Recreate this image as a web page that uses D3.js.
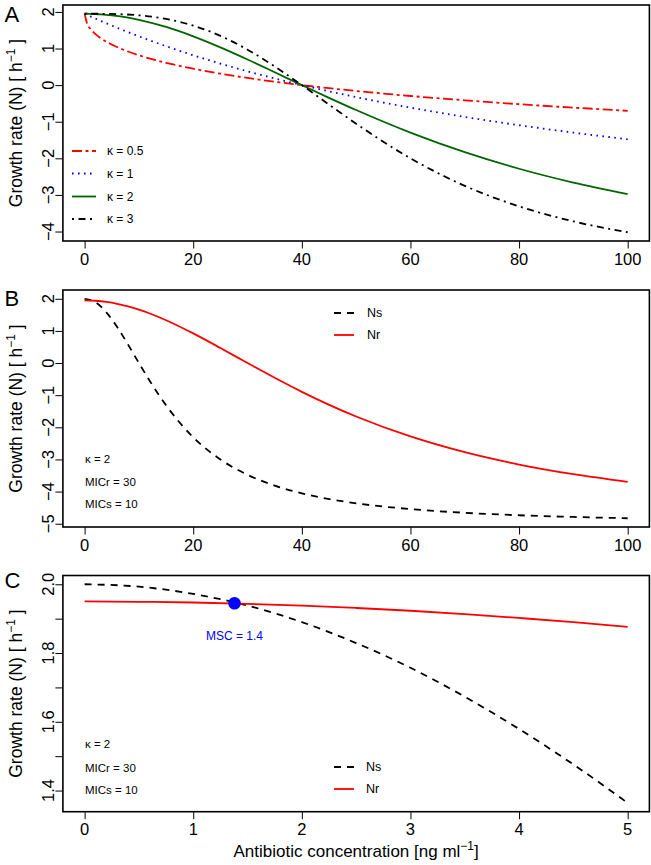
<!DOCTYPE html>
<html>
<head>
<meta charset="utf-8">
<script src="https://cdn.jsdelivr.net/npm/d3@7"></script>
<style>
  html, body { margin: 0; padding: 0; background: #fff; }
  svg { display: block; font-family: "Liberation Sans", Arial, sans-serif; }
</style>
</head>
<body>
<svg id="chart" width="651" height="865"></svg>
<script>
// ---------------- DATA ----------------
// Panel A: growth rate vs antibiotic concentration for several kappa values
const concA = [0, 0.5, 1, 2, 3, 5, 7.5, 10, 15, 20, 25, 30, 35, 40, 45, 50, 60, 70, 80, 90, 100];
const kappa05 = [1.95, 1.660, 1.546, 1.393, 1.279, 1.108, 0.946, 0.816, 0.610, 0.448, 0.312, 0.195, 0.092, 0.000, -0.084, -0.160, -0.297, -0.415, -0.521, -0.615, -0.701];
const kappa1  = [1.95, 1.916, 1.883, 1.817, 1.752, 1.627, 1.476, 1.333, 1.063, 0.816, 0.588, 0.377, 0.182, 0.000, -0.169, -0.328, -0.615, -0.869, -1.096, -1.298, -1.481];
const kappa2  = [1.95, 1.950, 1.948, 1.943, 1.935, 1.908, 1.856, 1.785, 1.589, 1.333, 1.031, 0.700, 0.352, 0.000, -0.347, -0.681, -1.298, -1.833, -2.285, -2.663, -2.978];
const kappa3  = [1.95, 1.950, 1.950, 1.950, 1.949, 1.945, 1.932, 1.908, 1.810, 1.627, 1.346, 0.968, 0.510, 0.000, -0.531, -1.055, -1.999, -2.751, -3.313, -3.723, -4.020];
const kappaLabels = ["κ = 0.5", "κ = 1", "κ = 2", "κ = 3"];

// Panel B: susceptible (Ns) vs resistant (Nr), wide range
const concB = [0, 2, 4, 6, 8, 10, 12, 15, 20, 25, 30, 35, 40, 50, 60, 70, 80, 90, 100];
const nsB = [2.000, 1.890, 1.579, 1.119, 0.573, 0.000, -0.558, -1.316, -2.308, -3.000, -3.478, -3.814, -4.054, -4.364, -4.545, -4.660, -4.737, -4.790, -4.829];
const nrB = [1.950, 1.938, 1.902, 1.843, 1.762, 1.661, 1.542, 1.333, 0.923, 0.469, 0.000, -0.460, -0.896, -1.664, -2.285, -2.775, -3.158, -3.459, -3.697];

// Panel C: low concentration zoom
const concC = [0, 0.5, 1, 1.5, 2, 2.5, 3, 3.5, 4, 4.5, 5];
const nsC = [2.000, 1.993, 1.972, 1.938, 1.890, 1.829, 1.757, 1.673, 1.579, 1.476, 1.364];
const nrC = [1.950, 1.949, 1.947, 1.943, 1.938, 1.931, 1.923, 1.913, 1.902, 1.890, 1.876];
const mscPoint = [1.38, 1.945];
const mscLabel = "MSC = 1.4";

const paramLabels = ["κ = 2", "MICr = 30", "MICs = 10"];
const seriesLabels = ["Ns", "Nr"];

// Ticks
const ticksAx = [0, 20, 40, 60, 80, 100];
const ticksAy = [-4, -3, -2, -1, 0, 1, 2];
const ticksBy = [-5, -4, -3, -2, -1, 0, 1, 2];
const ticksCx = [0, 1, 2, 3, 4, 5];
const ticksCy = [1.4, 1.5, 1.6, 1.7, 1.8, 1.9, 2.0];
const labelsCy = [1.4, 1.6, 1.8, 2.0];

// ---------------- DRAWING ----------------
const svg = d3.select("#chart");
const left = 62.9, right = 649.4;
const minus = s => s.replace("-", "\u2212");

function panel(cfg) {
  const x = d3.scaleLinear().domain(cfg.xdom).range([left, right]);
  const y = d3.scaleLinear().domain(cfg.ydom).range([cfg.bottom, cfg.top]);
  const g = svg.append("g");

  // y axis
  const ya = d3.axisLeft(y).tickValues(cfg.yticks).tickSize(7.5).tickFormat("");
  const yg = g.append("g").attr("transform", `translate(${left},0)`).call(ya);
  yg.select(".domain").remove();
  yg.selectAll("line").attr("stroke", "#000").attr("stroke-width", 1);
  cfg.ylabels.forEach(v => {
    g.append("text")
      .attr("transform", `translate(${left - 8.7},${y(v)}) rotate(-90)`)
      .attr("text-anchor", "middle")
      .attr("font-size", 16.5)
      .attr("fill", "#000")
      .text(minus(cfg.yfmt(v)));
  });

  // x axis
  const xa = d3.axisBottom(x).tickValues(cfg.xticks).tickSize(7.5).tickFormat("");
  const xg = g.append("g").attr("transform", `translate(0,${cfg.bottom})`).call(xa);
  xg.select(".domain").remove();
  xg.selectAll("line").attr("stroke", "#000").attr("stroke-width", 1);
  cfg.xticks.forEach(v => {
    g.append("text")
      .attr("x", x(v)).attr("y", cfg.bottom + 23.5)
      .attr("text-anchor", "middle")
      .attr("font-size", 16.5)
      .attr("fill", "#000")
      .text(String(v));
  });

  // y title
  const cy = (cfg.top + cfg.bottom) / 2;
  const t = g.append("text")
    .attr("transform", `translate(21.5,${cy}) rotate(-90)`)
    .attr("text-anchor", "middle")
    .attr("font-size", 17.5)
    .attr("fill", "#000");
  t.append("tspan").text("Growth rate (N) [ h");
  t.append("tspan").attr("font-size", 12).attr("dy", -7).text("\u22121");
  t.append("tspan").attr("dy", 7).text(" ]");

  // panel letter
  g.append("text").attr("x", 4.5).attr("y", cfg.letterY)
    .attr("font-size", 22).attr("fill", "#000").text(cfg.letter);

  // clip
  const clipId = "clip" + cfg.letter;
  svg.append("clipPath").attr("id", clipId).append("rect")
    .attr("x", left).attr("y", cfg.top).attr("width", right - left).attr("height", cfg.bottom - cfg.top);

  const line = d3.line().x(d => x(d[0])).y(d => y(d[1])).curve(d3.curveMonotoneX);
  const plot = g.append("g").attr("clip-path", `url(#${clipId})`);
  cfg.series.forEach(s => {
    const pts = s.xs.map((xv, i) => [xv, s.ys[i]]);
    plot.append("path").datum(pts)
      .attr("d", line)
      .attr("fill", "none")
      .attr("stroke", s.color)
      .attr("stroke-width", s.width || 1.8)
      .attr("stroke-dasharray", s.dash || null);
  });

  // box
  g.append("rect").attr("x", left).attr("y", cfg.top)
    .attr("width", right - left).attr("height", cfg.bottom - cfg.top)
    .attr("fill", "none").attr("stroke", "#000").attr("stroke-width", 1.6);

  return { g, x, y, plot };
}

const sA = [
  { xs: concA, ys: kappa05, color: "#FF0000", dash: "10,3.5,3,3.5" },
  { xs: concA, ys: kappa1,  color: "#0000FF", dash: "1.6,4.4" },
  { xs: concA, ys: kappa2,  color: "#006400", dash: null },
  { xs: concA, ys: kappa3,  color: "#000000", dash: "2,4.5,7,4.5" }
];

const pA = panel({
  letter: "A", letterY: 21.5,
  xdom: [-4, 104], ydom: [-4.259, 2.189], top: 5, bottom: 241,
  xticks: ticksAx, yticks: ticksAy, ylabels: ticksAy, yfmt: d3.format("d"),
  series: sA
});

// legend A
const legYA = [151, 173.5, 196.5, 219];
sA.forEach((s, i) => {
  pA.g.append("line").attr("x1", 72).attr("x2", 96).attr("y1", legYA[i]).attr("y2", legYA[i])
    .attr("stroke", s.color).attr("stroke-width", 1.8).attr("stroke-dasharray", s.dash || null);
  pA.g.append("text").attr("x", 107).attr("y", legYA[i] + 4.2)
    .attr("font-size", 12).attr("fill", "#000").text(kappaLabels[i]);
});

const sB = [
  { xs: concB, ys: nsB, color: "#000000", dash: "7,6" },
  { xs: concB, ys: nrB, color: "#FF0000", dash: null }
];
const pB = panel({
  letter: "B", letterY: 305.5,
  xdom: [-4, 104], ydom: [-5.102, 2.273], top: 290, bottom: 527,
  xticks: ticksAx, yticks: ticksBy, ylabels: ticksBy, yfmt: d3.format("d"),
  series: sB
});

function legendNs(g, ys, x1, x2, tx) {
  sB.forEach((s, i) => {
    g.append("line").attr("x1", x1).attr("x2", x2).attr("y1", ys[i]).attr("y2", ys[i])
      .attr("stroke", s.color).attr("stroke-width", 1.8).attr("stroke-dasharray", s.dash || null);
    g.append("text").attr("x", tx).attr("y", ys[i] + 4.3)
      .attr("font-size", 12.5).attr("fill", "#000").text(seriesLabels[i]);
  });
}
function params(g, ys) {
  paramLabels.forEach((t, i) => {
    g.append("text").attr("x", 85).attr("y", ys[i])
      .attr("font-size", 11.5).attr("fill", "#000").text(t);
  });
}
legendNs(pB.g, [313, 335], 334, 354, 367);
params(pB.g, [463, 486, 508]);

const sC = [
  { xs: concC, ys: nsC, color: "#000000", dash: "7,6" },
  { xs: concC, ys: nrC, color: "#FF0000", dash: null }
];
const pC = panel({
  letter: "C", letterY: 587.5,
  xdom: [-0.2, 5.2], ydom: [1.3385, 2.0255], top: 575.5, bottom: 811.7,
  xticks: ticksCx, yticks: ticksCy, ylabels: labelsCy, yfmt: d3.format(".1f"),
  series: sC
});
legendNs(pC.g, [767, 789], 334, 354, 366);
params(pC.g, [748, 772, 794]);

// MSC point
pC.g.append("circle").attr("cx", pC.x(mscPoint[0])).attr("cy", pC.y(mscPoint[1]))
  .attr("r", 6.3).attr("fill", "#0000FF");
pC.g.append("text").attr("x", pC.x(mscPoint[0])).attr("y", 640)
  .attr("text-anchor", "middle").attr("font-size", 12).attr("fill", "#0000FF").text(mscLabel);

// x title
const xt = svg.append("text").attr("x", (left + right) / 2).attr("y", 857)
  .attr("text-anchor", "middle").attr("font-size", 17).attr("fill", "#000");
xt.append("tspan").text("Antibiotic concentration [ng ml");
xt.append("tspan").attr("font-size", 12).attr("dy", -7).text("\u22121");
xt.append("tspan").attr("dy", 7).text("]");
</script>
</body>
</html>
